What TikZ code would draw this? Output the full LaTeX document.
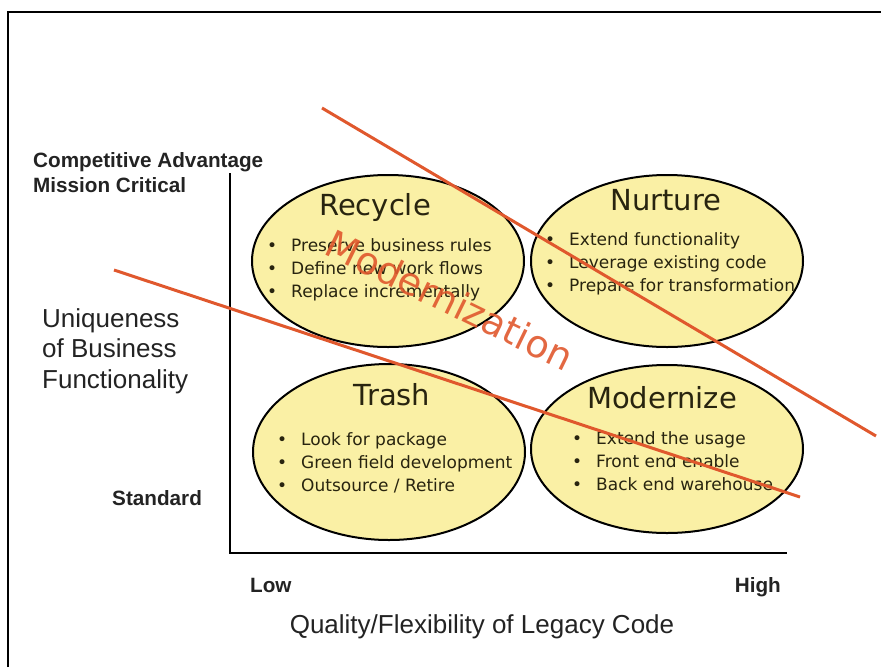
\documentclass[tikz,border=0pt]{standalone}
\usepackage{fontspec}
\setmainfont{Liberation Sans}
\newfontfamily\ovalfont{DejaVu Sans}
\usetikzlibrary{shapes.geometric, positioning}

\definecolor{ovalfill}{RGB}{250,240,165}
\definecolor{ovaltext}{RGB}{40,36,15}
\definecolor{trendred}{RGB}{224,88,45}
\definecolor{labeltext}{RGB}{35,35,35}

\newcommand{\bul}[1]{\makebox[24pt][l]{\textbullet}#1}

\begin{document}
\begin{tikzpicture}[x=1pt, y=-1pt,
        quadrant/.style={ellipse, draw, line width=2pt, fill=ovalfill, minimum width=272pt, minimum height=172pt, inner sep=0pt},
        quadtitle/.style={anchor=base, inner sep=0pt, text=ovaltext, font=\ovalfont\fontsize{29}{32}\selectfont},
        items/.style={anchor=north west, align=left, inner sep=0pt, text=ovaltext, font=\ovalfont\fontsize{17}{23}\selectfont},
        boldlabel/.style={inner sep=0pt, text=labeltext, font=\bfseries\fontsize{20.7}{25}\selectfont},
        axislabel/.style={inner sep=0pt, text=labeltext, font=\fontsize{26}{30.5}\selectfont},
        trend/.style={draw=trendred, line width=3pt}]
        \useasboundingbox (0,0) rectangle (881,667);
        \draw[line width=2pt] (8,667) -- (8,12) -- (881,12);

        % axes
        \coordinate (top) at (230,173);
        \coordinate (origin) at (230,553);
        \coordinate (right) at (787,553);
        \draw[line width=2.5pt] (top) -- (origin) -- (right);

        % quadrants
        \node[quadrant] (recycle) at (388,261) {};
        \node[quadrant] (nurture) at (667,261) {};
        \node[quadrant, minimum height=176pt] (trash) at (389,452) {};
        \node[quadrant, minimum height=168pt] (modernize) at (667,449) {};

        \node[quadtitle] (recycle-title) at (375,215) {Recycle};
        \node[quadtitle] (nurture-title) at (666,210) {Nurture};
        \node[quadtitle] (trash-title) at (392,405) {Trash};
        \node[quadtitle] (modernize-title) at (662,408) {Modernize};

        \node[items] (recycle-items) at (267,238) {\bul{Preserve business rules}\\ \bul{Define new work flows}\\ \bul{Replace incrementally}};
        \node[items] (nurture-items) at (545,232) {\bul{Extend functionality}\\ \bul{Leverage existing code}\\ \bul{Prepare for transformation}};
        \node[items] (trash-items) at (277,432) {\bul{Look for package}\\ \bul{Green field development}\\ \bul{Outsource / Retire}};
        \node[items] (modernize-items) at (572,431) {\bul{Extend the usage}\\ \bul{Front end enable}\\ \bul{Back end warehouse}};

        \node[rotate=-26, inner sep=0pt, text=trendred, opacity=0.9, font=\ovalfont\fontsize{38}{42}\selectfont] (modernization) at (450,300) {Modernization};

        % trend lines
        \coordinate (upper-start) at (322,108);
        \coordinate (upper-end) at (876,436);
        \coordinate (lower-start) at (114,270);
        \coordinate (lower-end) at (800,497);
        \draw[trend] (upper-start) -- (upper-end);
        \draw[trend] (lower-start) -- (lower-end);

        % axis labels
        \node[boldlabel, anchor=base west] (advantage) at (33,167) {Competitive Advantage};
        \node[boldlabel, anchor=base west] (critical) at (33,192) {Mission Critical};
        \node[boldlabel, anchor=base west] (standard) at (112,505) {Standard};
        \node[axislabel, anchor=north west, align=left] (uniqueness) at (42,308) {Uniqueness\\ of Business\\ Functionality};
        \node[boldlabel, anchor=base west] (low) at (250,592) {Low};
        \node[boldlabel, anchor=base east] (high) at (781,592) {High};
        \node[axislabel, anchor=base] (quality) at (482,633) {Quality/Flexibility of Legacy Code};
    \end{tikzpicture}
\end{document}
